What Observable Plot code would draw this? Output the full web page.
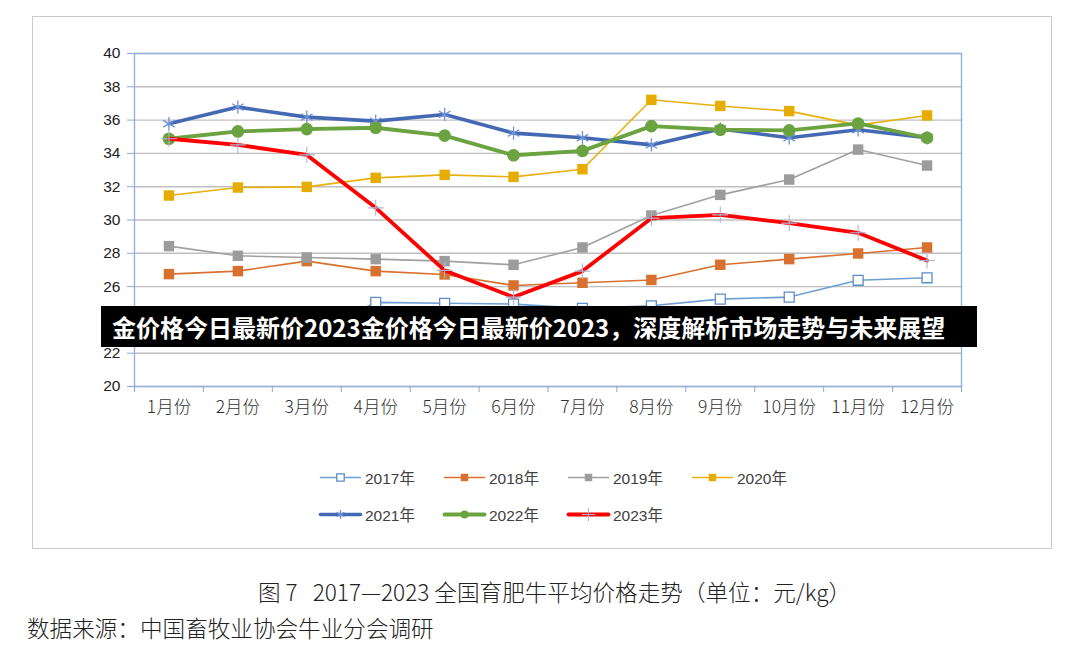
<!DOCTYPE html>
<html>
<head>
<meta charset="utf-8">
<script src="https://cdn.jsdelivr.net/npm/d3@7"></script>
<script src="https://cdn.jsdelivr.net/npm/@observablehq/plot@0.6"></script>
<style>
  html, body { margin: 0; padding: 0; background: #fff; }
  #wrap { position: relative; width: 1080px; height: 654px; overflow: hidden; font-family: "Noto Sans CJK SC", "Liberation Sans", sans-serif; }
  #frame { position: absolute; left: 32px; top: 16px; width: 1018px; height: 531px; border: 1.5px solid #c9c9c9; }
  #chart { position: absolute; left: 0; top: 0; }
  #legend { position: absolute; left: 320px; top: 465px; }
  .row { position: relative; height: 37px; }
  .item { position: absolute; top: 0; display: flex; align-items: center; height: 24px; font-size: 15.5px; color: #404040; white-space: nowrap; font-family: "Liberation Sans", "Noto Sans CJK SC", sans-serif; }
  .item svg { margin-right: 5px; flex: none; }
  #banner { position: absolute; left: 101px; top: 306px; width: 876px; height: 41px; background: #000; color: #fff; font-weight: 700; font-size: 24px; line-height: 41px; padding-left: 11px; box-sizing: border-box; white-space: nowrap; font-family: "Noto Sans CJK SC", sans-serif; }
  #caption { position: absolute; left: 258px; top: 575px; font-size: 22.6px; color: #222; font-weight: 300; white-space: nowrap; }
  #source { position: absolute; left: 27px; top: 611px; font-size: 22.6px; color: #222; font-weight: 300; white-space: nowrap; }
</style>
</head>
<body>
<div id="wrap">
  <div id="frame"></div>
  <div id="chart"></div>
  <div id="legend"></div>
  <div id="banner">金价格今日最新价2023金价格今日最新价2023，深度解析市场走势与未来展望</div>
  <div id="caption">图 7&nbsp;&nbsp; 2017—2023 全国育肥牛平均价格走势（单位：元/kg）</div>
  <div id="source">数据来源：中国畜牧业协会牛业分会调研</div>
</div>
<script>
// ---- data ----
const months = ["1月份","2月份","3月份","4月份","5月份","6月份","7月份","8月份","9月份","10月份","11月份","12月份"];
const yTicks = [20, 22, 24, 26, 28, 30, 32, 34, 36, 38, 40];
const seriesNames = ["2017年","2018年","2019年","2020年","2021年","2022年","2023年"];
const v2017 = [23.5, 23.3, 23.1, 25.05, 25.0, 24.95, 24.7, 24.85, 25.25, 25.37, 26.38, 26.53];
const v2018 = [26.75, 26.93, 27.53, 26.93, 26.73, 26.07, 26.23, 26.4, 27.31, 27.65, 27.99, 28.35];
const v2019 = [28.43, 27.85, 27.75, 27.65, 27.53, 27.31, 28.35, 30.27, 31.51, 32.43, 34.23, 33.27];
const v2020 = [31.47, 31.95, 31.99, 32.53, 32.71, 32.59, 33.05, 37.22, 36.85, 36.54, 35.7, 36.28];
const v2021 = [35.78, 36.78, 36.18, 35.94, 36.34, 35.22, 34.94, 34.51, 35.47, 34.94, 35.42, 34.94];
const v2022 = [34.88, 35.32, 35.46, 35.54, 35.07, 33.89, 34.15, 35.64, 35.42, 35.38, 35.8, 34.94];
const v2023 = [34.88, 34.51, 33.91, 30.73, 26.97, 25.37, 26.93, 30.11, 30.31, 29.81, 29.23, 27.57];

const values = [v2017, v2018, v2019, v2020, v2021, v2022, v2023];
const styles = [
  {line: "#6e9fd3", lw: 1.6, symbol: "square", fill: "#fff", stroke: "#5b8dc6", r: 5.6, sw: 1.3},
  {line: "#d8712f", lw: 1.6, symbol: "square", fill: "#d8712f", stroke: "none", r: 5.9, sw: 0},
  {line: "#a0a0a0", lw: 1.6, symbol: "square", fill: "#9c9c9c", stroke: "none", r: 5.9, sw: 0},
  {line: "#e8b00c", lw: 1.6, symbol: "square", fill: "#e6ad00", stroke: "none", r: 5.9, sw: 0},
  {line: "#4469b3", lw: 3.6, symbol: "asterisk", fill: "none", stroke: "#6f92d8", r: 6.3, sw: 1.3},
  {line: "#6aa33f", lw: 3.8, symbol: "circle", fill: "#6aa33f", stroke: "none", r: 6.3, sw: 0},
  {line: "#ff0000", lw: 3.8, symbol: "plus", fill: "none", stroke: "#a9b6d6", r: 5.2, sw: 1.1}
];

const data = [];
seriesNames.forEach((name, s) => {
  values[s].forEach((v, i) => data.push({series: name, s, m: i + 1, v}));
});
const boundaries = d3.range(0, months.length + 1).map(i => i + 0.5);

const marks = [
  Plot.gridY(yTicks, {stroke: "#bfbfbf", strokeOpacity: 1, strokeWidth: 1.4}),
  Plot.frame({stroke: "#8fb2df", strokeWidth: 1.4}),
  Plot.axisY(yTicks, {label: null, tickSize: 7, tickPadding: 7, stroke: "#8aa7cf", fontSize: 15.5, fill: "#222", fontFamily: "Liberation Sans, sans-serif", tickFormat: d => d}),
  Plot.axisX(boundaries, {label: null, tickSize: 6, stroke: "#8aa7cf", tickFormat: () => ""}),
  Plot.axisX(d3.range(1, months.length + 1), {label: null, tickSize: 0, tickPadding: 14, fontSize: 17.5, fill: "#333", fontFamily: "Noto Sans CJK SC, sans-serif", fontWeight: 300, tickFormat: d => months[d - 1]})
];
seriesNames.forEach((name, s) => {
  const st = styles[s];
  const d = data.filter(o => o.s === s);
  marks.push(Plot.line(d, {x: "m", y: "v", stroke: st.line, strokeWidth: st.lw, strokeLinejoin: "round", strokeLinecap: "round"}));
  marks.push(Plot.dot(d, {x: "m", y: "v", symbol: st.symbol, r: st.r, fill: st.fill, stroke: st.stroke, strokeWidth: st.sw}));
});

const chart = Plot.plot({
  width: 1080,
  height: 430,
  marginLeft: 134,
  marginRight: 119,
  marginTop: 53,
  marginBottom: 44,
  x: {domain: [0.5, months.length + 0.5], axis: null},
  y: {domain: [20, 40], axis: null},
  style: {background: "transparent", overflow: "visible"},
  marks
});
document.getElementById("chart").appendChild(chart);

// ---- legend ----
const legend = document.getElementById("legend");
const positions = [0, 124, 248, 372];
const rows = [[0,1,2,3],[4,5,6]];
rows.forEach(r => {
  const row = document.createElement("div");
  row.className = "row";
  r.forEach((s, k) => {
    const st = styles[s];
    const item = document.createElement("div");
    item.className = "item";
    item.style.left = positions[k] + "px";
    const sw = Plot.plot({
      width: 40, height: 24, margin: 0,
      x: {domain: [0, 2], axis: null}, y: {domain: [0, 2], axis: null},
      style: {background: "transparent", overflow: "visible"},
      marks: [
        Plot.line([{x: 0, y: 1}, {x: 2, y: 1}], {x: "x", y: "y", stroke: st.line, strokeWidth: st.lw}),
        Plot.dot([{x: 1, y: 1}], {x: "x", y: "y", symbol: st.symbol, r: st.symbol === "circle" ? 4 : (st.symbol === "square" ? 4.2 : 4.3), fill: st.fill, stroke: st.stroke, strokeWidth: st.sw})
      ]
    });
    item.appendChild(sw);
    const t = document.createElement("span");
    t.textContent = seriesNames[s];
    item.appendChild(t);
    row.appendChild(item);
  });
  legend.appendChild(row);
});
</script>
</body>
</html>
